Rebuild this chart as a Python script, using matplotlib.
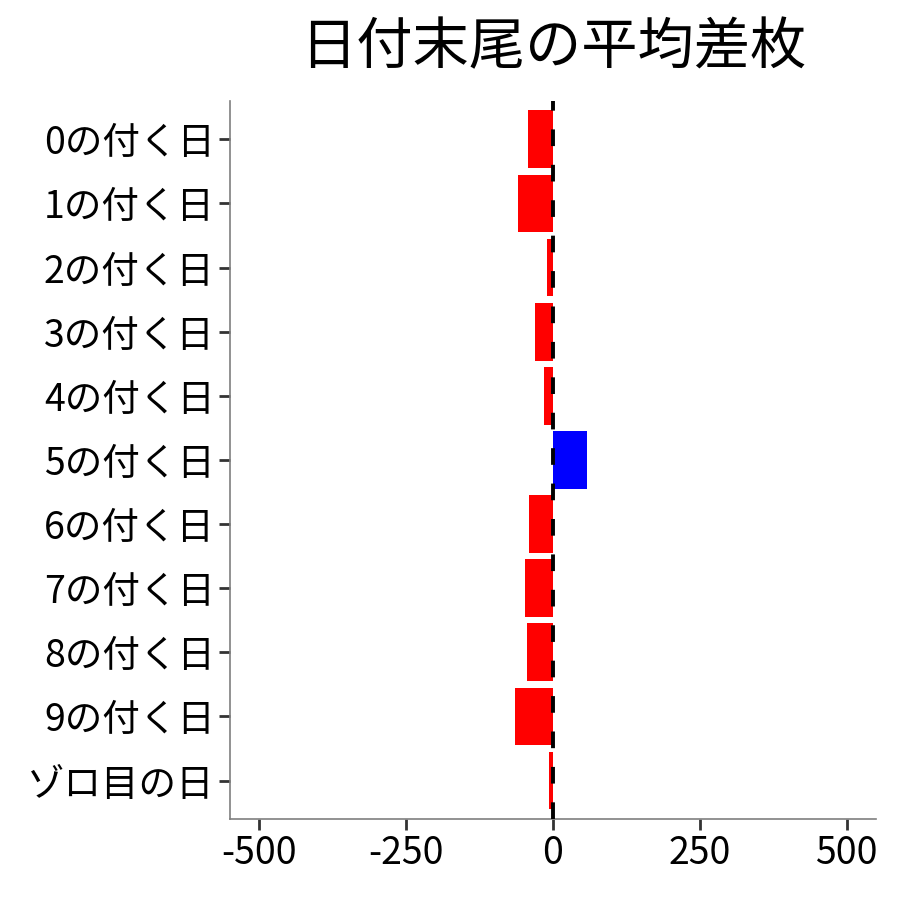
import matplotlib
matplotlib.use('Agg')
import matplotlib.pyplot as plt
import numpy as np

plt.rcParams['font.family'] = ['Noto Sans CJK JP', 'DejaVu Sans']
plt.rcParams['lines.scale_dashes'] = False

categories = ['0の付く日', '1の付く日', '2の付く日', '3の付く日', '4の付く日',
              '5の付く日', '6の付く日', '7の付く日', '8の付く日', '9の付く日', 'ゾロ目の日']
diff_values = [-43, -60, -11, -31, -16, 58, -41, -48, -45, -65, -7]
x_ticks = [-500, -250, 0, 250, 500]

colors = ['blue' if v > 0 else 'red' for v in diff_values]
y_pos = np.arange(len(categories))[::-1]

fig = plt.figure(figsize=(9, 9), dpi=100)
ax = fig.add_axes([0.2556, 0.0900, 0.7177, 0.7980])

ax.barh(y_pos, diff_values, height=0.9, color=colors, zorder=2)
ax.axvline(0, color='black', linewidth=2.8, linestyle=(0, (12, 13.5)), zorder=3)

ax.set_xlim(-550, 550)
ax.set_ylim(-0.6, len(categories) - 0.4)
ax.set_xticks(x_ticks)
ax.set_xticklabels([str(t) for t in x_ticks])
ax.set_yticks(y_pos)
ax.set_yticklabels(categories)

ax.tick_params(axis='both', labelsize=27, length=8, width=2, color='#333333',
               labelcolor='black', pad=3)
for side in ['top', 'right']:
    ax.spines[side].set_visible(False)
for side in ['left', 'bottom']:
    ax.spines[side].set_color('#7f7f7f')
    ax.spines[side].set_linewidth(1.2)

ax.set_title('日付末尾の平均差枚', fontsize=40.5, pad=26)

fig.savefig('out.png', dpi=100)
